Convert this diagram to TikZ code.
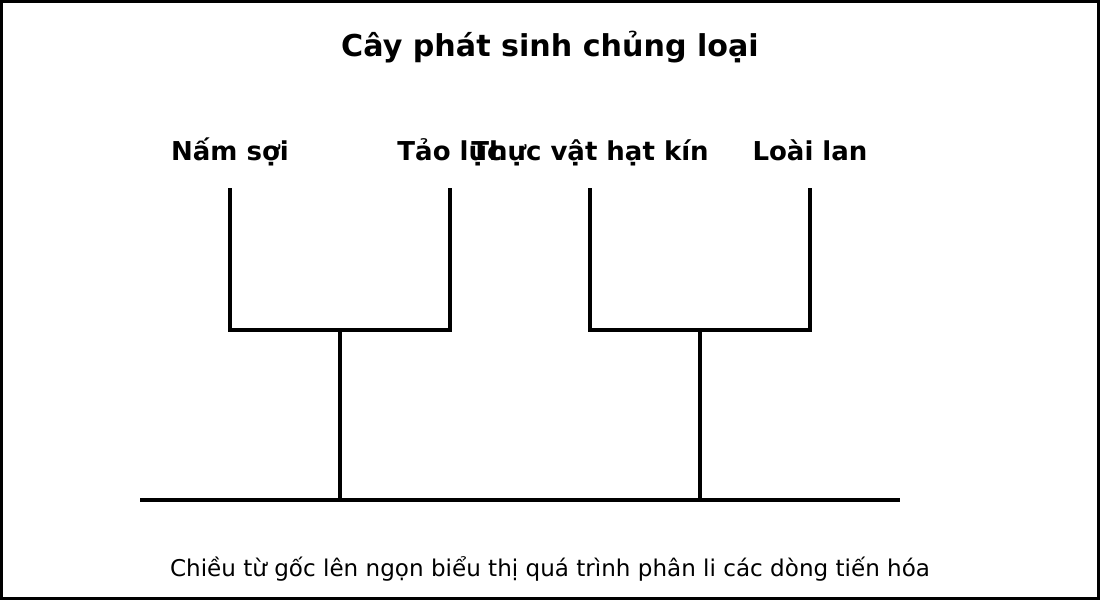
\documentclass[tikz,border=0pt]{standalone}
\usepackage{fontspec}
\setmainfont{DejaVu Sans}
\usepackage{tikz}
\usetikzlibrary{positioning}

\begin{document}
\begin{tikzpicture}[x=0.75pt,y=-0.75pt,
	branch/.style={line width=2.5pt,line cap=rect},
	taxon/.style={font=\bfseries\fontsize{19.5}{22}\selectfont,inner sep=0pt,anchor=base}]
	\useasboundingbox (0,0) rectangle (1100,600);
	\draw[line width=2.25pt] (1.5,1.5) rectangle (1098.5,598.5);
	\node[font=\bfseries\fontsize{22.6}{26}\selectfont,inner sep=0pt] at (550,47) (title) {Cây phát sinh chủng loại};
	\node[taxon] at (230,160) (nam) {Nấm sợi};
	\node[taxon] at (450,160) (tao) {Tảo lục};
	\node[taxon] at (590,160) (thuc) {Thực vật hạt kín};
	\node[taxon] at (810,160) (lan) {Loài lan};
	% tips and branch points
	\coordinate (namtip) at (230,190);
	\coordinate (taotip) at (450,190);
	\coordinate (thuctip) at (590,190);
	\coordinate (lantip) at (810,190);
	\coordinate (namknee) at (230,330);
	\coordinate (taoknee) at (450,330);
	\coordinate (thucknee) at (590,330);
	\coordinate (lanknee) at (810,330);
	\coordinate (leftnode) at (340,330);
	\coordinate (rightnode) at (700,330);
	\coordinate (leftbase) at (340,500);
	\coordinate (rightbase) at (700,500);
	\coordinate (rootL) at (140,500);
	\coordinate (rootR) at (900,500);
	\draw[branch] (namtip)--(namknee)--(taoknee)--(taotip);
	\draw[branch] (thuctip)--(thucknee)--(lanknee)--(lantip);
	\draw[branch] (leftnode)--(leftbase);
	\draw[branch] (rightnode)--(rightbase);
	\draw[branch,line cap=butt] (rootL)--(rootR);
	\node[font=\fontsize{17.3}{20}\selectfont,inner sep=0pt] at (550,569) (note) {Chiều từ gốc lên ngọn biểu thị quá trình phân li các dòng tiến hóa};
\end{tikzpicture}
\end{document}
